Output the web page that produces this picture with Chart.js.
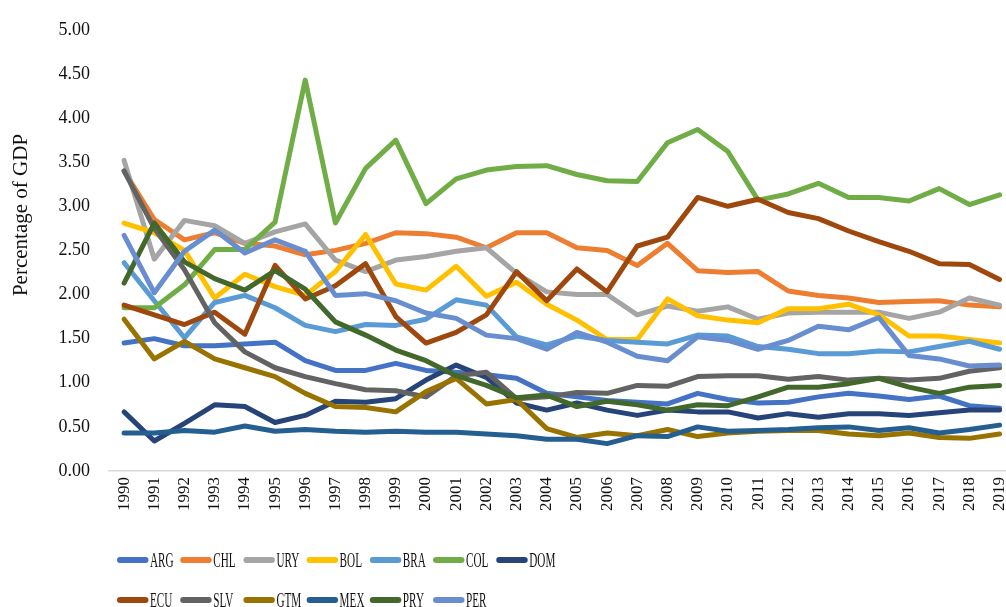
<!DOCTYPE html>
<html>
<head>
<meta charset="utf-8">
<script src="https://cdn.jsdelivr.net/npm/chart.js@4.4.1/dist/chart.umd.min.js"></script>
<style>
  html, body { margin: 0; padding: 0; background: #ffffff; overflow: hidden; width: 1006px; height: 607px; }
  #wrap { position: relative; width: 1026px; height: 607px; }
</style>
</head>
<body>
<div id="wrap"><canvas id="c" width="1026" height="607"></canvas></div>
<script>
const years = ["1990","1991","1992","1993","1994","1995","1996","1997","1998","1999","2000","2001","2002","2003","2004","2005","2006","2007","2008","2009","2010","2011","2012","2013","2014","2015","2016","2017","2018","2019"];
const yTicks = [0, 0.5, 1, 1.5, 2, 2.5, 3, 3.5, 4, 4.5, 5];
const countries = ["ARG","CHL","URY","BOL","BRA","COL","DOM","ECU","SLV","GTM","MEX","PRY","PER"];
const colors = ["#4472C4","#ED7D31","#A5A5A5","#FFC000","#5B9BD5","#70AD47","#264478","#9E480E","#636363","#997300","#255E91","#43682B","#698ED0"];
const yTitle = "Percentage of GDP";

const ARG = [1.45,1.50,1.42,1.42,1.44,1.46,1.25,1.14,1.14,1.22,1.14,1.12,1.09,1.05,0.88,0.84,0.80,0.78,0.76,0.88,0.81,0.77,0.78,0.84,0.88,0.85,0.81,0.85,0.74,0.71];
const CHL = [3.40,2.85,2.62,2.70,2.58,2.55,2.45,2.50,2.58,2.70,2.69,2.65,2.53,2.70,2.70,2.53,2.50,2.33,2.58,2.27,2.25,2.26,2.04,1.99,1.96,1.91,1.92,1.93,1.88,1.86];
const URY = [3.52,2.40,2.84,2.78,2.58,2.71,2.80,2.39,2.26,2.39,2.43,2.49,2.53,2.24,2.03,2.00,2.00,1.77,1.87,1.81,1.86,1.72,1.79,1.80,1.80,1.80,1.73,1.80,1.96,1.88];
const BOL = [2.81,2.70,2.50,1.96,2.23,2.09,1.99,2.26,2.68,2.12,2.05,2.32,1.98,2.14,1.89,1.71,1.49,1.49,1.95,1.76,1.71,1.68,1.84,1.84,1.89,1.77,1.53,1.53,1.49,1.45];
const BRA = [2.36,1.93,1.51,1.91,1.99,1.85,1.65,1.58,1.66,1.65,1.72,1.94,1.88,1.52,1.43,1.53,1.48,1.46,1.44,1.54,1.53,1.41,1.38,1.33,1.33,1.36,1.35,1.41,1.47,1.38];
const COL = [1.85,1.85,2.11,2.51,2.51,2.82,4.43,2.81,3.43,3.75,3.03,3.31,3.41,3.45,3.46,3.36,3.29,3.28,3.72,3.87,3.62,3.07,3.14,3.26,3.10,3.10,3.06,3.20,3.02,3.13];
const DOM = [0.67,0.34,0.54,0.75,0.73,0.55,0.63,0.79,0.78,0.82,1.03,1.20,1.06,0.77,0.69,0.77,0.69,0.63,0.69,0.67,0.67,0.60,0.65,0.61,0.65,0.65,0.63,0.66,0.69,0.69];
const ECU = [1.88,1.77,1.66,1.80,1.55,2.33,1.95,2.10,2.35,1.75,1.45,1.57,1.77,2.26,1.93,2.29,2.03,2.55,2.65,3.10,3.00,3.08,2.93,2.86,2.72,2.60,2.49,2.35,2.34,2.17];
const SLV = [3.40,2.75,2.28,1.68,1.35,1.17,1.07,0.99,0.92,0.91,0.84,1.08,1.12,0.82,0.84,0.89,0.88,0.97,0.96,1.07,1.08,1.08,1.04,1.07,1.03,1.05,1.03,1.05,1.13,1.17];
const GTM = [1.72,1.27,1.47,1.27,1.17,1.07,0.88,0.73,0.72,0.67,0.90,1.05,0.76,0.81,0.48,0.38,0.43,0.40,0.47,0.39,0.43,0.45,0.46,0.46,0.42,0.40,0.43,0.38,0.37,0.42];
const MEX = [0.43,0.43,0.46,0.44,0.51,0.45,0.47,0.45,0.44,0.45,0.44,0.44,0.42,0.40,0.36,0.36,0.31,0.40,0.39,0.50,0.45,0.46,0.47,0.49,0.50,0.46,0.49,0.43,0.47,0.52];
const PRY = [2.13,2.81,2.37,2.18,2.05,2.27,2.06,1.69,1.54,1.37,1.25,1.08,0.97,0.83,0.86,0.73,0.79,0.75,0.69,0.75,0.74,0.84,0.95,0.95,0.99,1.05,0.95,0.88,0.95,0.97];
const PER = [2.67,2.02,2.49,2.73,2.47,2.62,2.49,1.99,2.01,1.93,1.79,1.73,1.54,1.50,1.38,1.57,1.46,1.30,1.25,1.52,1.48,1.38,1.48,1.64,1.60,1.74,1.31,1.27,1.19,1.20];

const seriesValues = [ARG, CHL, URY, BOL, BRA, COL, DOM, ECU, SLV, GTM, MEX, PRY, PER];
const FONT = "'Liberation Serif', 'Times New Roman', serif";

const datasets = countries.map((name, i) => ({
  label: name,
  data: seriesValues[i],
  borderColor: colors[i],
  backgroundColor: colors[i],
  borderWidth: 5,
  pointRadius: 0,
  pointHoverRadius: 0,
  tension: 0,
  fill: false,
  borderJoinStyle: 'round',
  borderCapStyle: 'round',
  order: -i
}));

const legendPlugin = {
  id: 'excelLegend',
  afterDraw(chart) {
    const ctx = chart.ctx;
    const ds = chart.data.datasets;
    ctx.save();
    // y-axis title
    ctx.save();
    ctx.translate(21, 215);
    ctx.rotate(-Math.PI / 2);
    ctx.font = "21px " + FONT;
    ctx.fillStyle = '#111111';
    ctx.textAlign = 'center';
    ctx.textBaseline = 'middle';
    ctx.fillText(yTitle, 0, 0);
    ctx.restore();
    // legend
    ds.forEach((d, i) => {
      const row = i < 7 ? 0 : 1;
      const col = i < 7 ? i : i - 7;
      const x0 = 117 + 63.2 * col;
      const y = row === 0 ? 560 : 600;
      ctx.beginPath();
      ctx.lineWidth = 6;
      ctx.lineCap = 'round';
      ctx.strokeStyle = d.borderColor;
      ctx.moveTo(x0 + 3, y);
      ctx.lineTo(x0 + 28.5, y);
      ctx.stroke();
      ctx.save();
      ctx.translate(x0 + 33, y + 7);
      ctx.scale(0.56, 1);
      ctx.font = "20px " + FONT;
      ctx.fillStyle = '#111111';
      ctx.textBaseline = 'alphabetic';
      ctx.textAlign = 'left';
      ctx.fillText(d.label, 0, 0);
      ctx.restore();
    });
    ctx.restore();
  }
};

new Chart(document.getElementById('c'), {
  type: 'line',
  data: { labels: years, datasets: datasets },
  plugins: [legendPlugin],
  options: {
    responsive: false,
    animation: false,
    devicePixelRatio: 1,
    layout: { padding: { top: 24, right: 3, left: 0, bottom: 0 } },
    plugins: {
      legend: { display: false },
      tooltip: { enabled: false }
    },
    scales: {
      x: {
        offset: true,
        grid: { display: false, drawTicks: false },
        border: { display: true, color: '#D9D9D9', width: 1.5 },
        ticks: {
          color: '#111111',
          font: { family: FONT, size: 17 },
          minRotation: 90,
          maxRotation: 90,
          autoSkip: false,
          padding: 6
        },
        afterFit(scale) { scale.height = 136; }
      },
      y: {
        min: 0,
        max: 5,
        afterBuildTicks(scale) { scale.ticks = yTicks.map(v => ({ value: v })); },
        grid: { display: false, drawTicks: false },
        border: { display: false },
        ticks: {
          color: '#111111',
          font: { family: FONT, size: 18 },
          padding: 19,
          callback: (v) => Number(v).toFixed(2)
        },
        title: { display: false },
        afterFit(scale) { scale.width = 109; }
      }
    }
  }
});
</script>
</body>
</html>
